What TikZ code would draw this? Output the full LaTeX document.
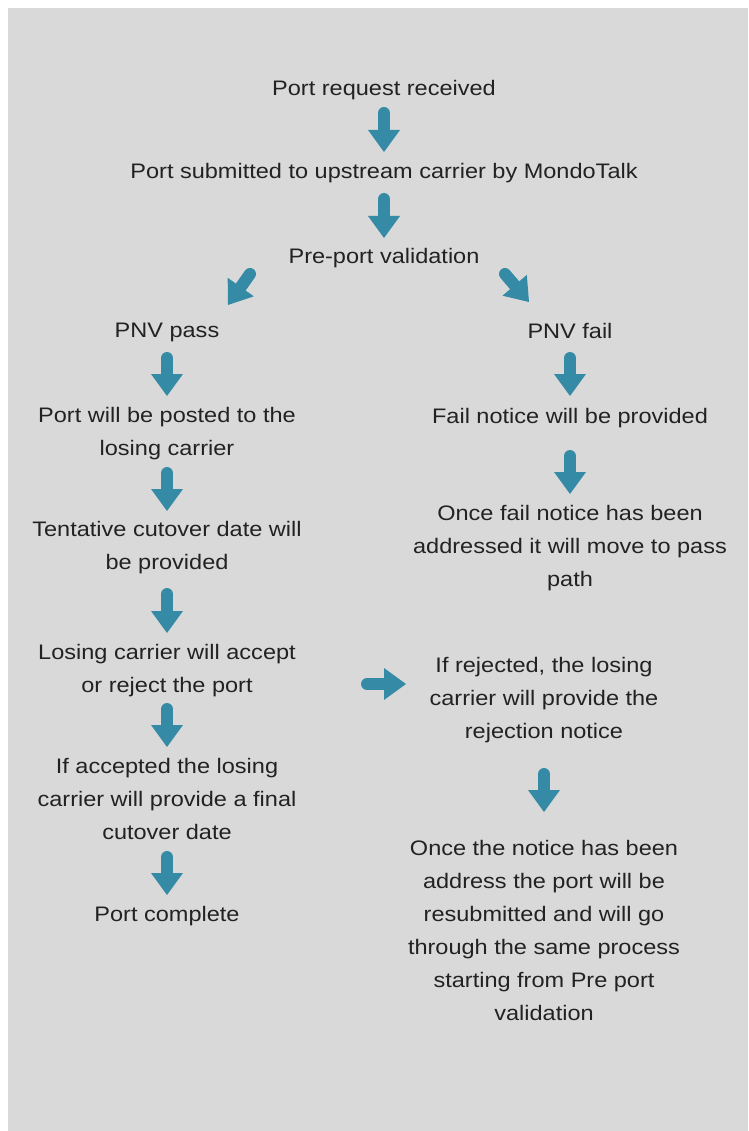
\documentclass[tikz,border=0pt]{standalone}
\usepackage{fontspec}
\setmainfont[FakeStretch=1.12]{Liberation Sans}
\usetikzlibrary{arrows.meta}
\definecolor{bgray}{HTML}{D9D9D9}
\definecolor{arrowteal}{HTML}{358AA6}
\definecolor{ink}{HTML}{222222}

\begin{document}
\begin{tikzpicture}[x=1pt, y=-1pt,
  txt/.style={anchor=north, inner sep=0pt, align=center, text=ink,
    font=\fontsize{21}{33}\selectfont},
  flow/.style={draw=arrowteal, line width=12pt, line cap=round,
    -{Triangle[width=32pt, length=22pt, line width=0pt, fill=arrowteal]}}]
\useasboundingbox[fill=white] (0,0) rectangle (748,1131);
\fill[bgray] (8,8) rectangle (748,1131);

% main column
\node[txt] (req) at (384,80) {Port request received};
\node[txt] (sub) at (384,163) {Port submitted to upstream carrier by MondoTalk};
\node[txt] (val) at (384,248) {Pre-port validation};

% pass path
\node[txt] (pass) at (167,323) {PNV pass};
\node[txt] (posted) at (167,407) {Port will be posted to the\\losing carrier};
\node[txt] (tent) at (167,521) {Tentative cutover date will\\be provided};
\node[txt] (lose) at (167,644) {Losing carrier will accept\\or reject the port};
\node[txt] (acc) at (167,758) {If accepted the losing\\carrier will provide a final\\cutover date};
\node[txt] (done) at (167,906) {Port complete};

% fail path
\node[txt] (fail) at (570,323) {PNV fail};
\node[txt] (fnot) at (570,408) {Fail notice will be provided};
\node[txt] (fadd) at (570,505) {Once fail notice has been\\addressed it will move to pass\\path};

% rejection path
\node[txt] (rej) at (544,657) {If rejected, the losing\\carrier will provide the\\rejection notice};
\node[txt] (resub) at (544,840) {Once the notice has been\\address the port will be\\resubmitted and will go\\through the same process\\starting from Pre port\\validation};

% arrow ends
\coordinate (t1) at (384,113);  \coordinate (h1) at (384,152);
\coordinate (t2) at (384,199);  \coordinate (h2) at (384,238);
\coordinate (t3) at (250,274);  \coordinate (h3) at (228,305);
\coordinate (t4) at (505,274);  \coordinate (h4) at (529,302);
\coordinate (t5) at (167,358);  \coordinate (h5) at (167,396);
\coordinate (t6) at (167,473);  \coordinate (h6) at (167,511);
\coordinate (t7) at (167,594);  \coordinate (h7) at (167,633);
\coordinate (t8) at (167,709);  \coordinate (h8) at (167,747);
\coordinate (t9) at (167,857);  \coordinate (h9) at (167,895);
\coordinate (t10) at (570,358); \coordinate (h10) at (570,396);
\coordinate (t11) at (570,456); \coordinate (h11) at (570,494);
\coordinate (t12) at (367,684); \coordinate (h12) at (406,684);
\coordinate (t13) at (544,774); \coordinate (h13) at (544,812);

\foreach \i in {1,...,13}
  \draw[flow] (t\i) -- (h\i);
\end{tikzpicture}
\end{document}
